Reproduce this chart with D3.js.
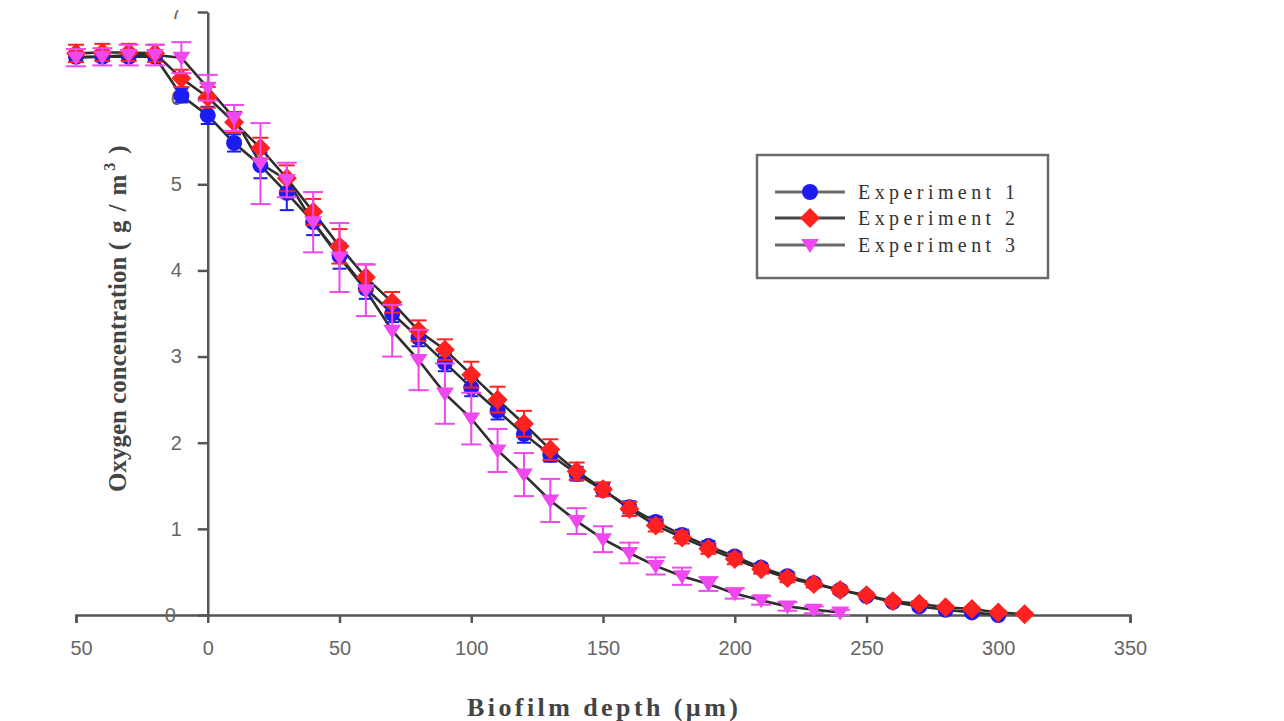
<!DOCTYPE html>
<html><head><meta charset="utf-8">
<script src="https://cdn.jsdelivr.net/npm/d3@7/dist/d3.min.js"></script>
<style>body{margin:0;background:#fff;} svg{display:block;}</style>
</head><body>
<svg id="chart" width="1284" height="721"></svg>
<script>
// ---- data ----
const depth1 = [-50,-40,-30,-20,-10,0,10,20,30,40,50,60,70,80,90,100,110,120,130,140,150,160,170,180,190,200,210,220,230,240,250,260,270,280,290,300];
const exp1 = [6.48,6.48,6.48,6.48,6.03,5.80,5.48,5.22,4.90,4.56,4.17,3.79,3.50,3.22,2.93,2.64,2.37,2.10,1.86,1.64,1.45,1.25,1.08,0.93,0.80,0.68,0.55,0.45,0.37,0.29,0.22,0.15,0.10,0.06,0.03,0.00];
const err1 = [0.05,0.05,0.05,0.05,0.08,0.10,0.10,0.15,0.20,0.15,0.15,0.12,0.10,0.10,0.10,0.10,0.10,0.10,0.08,0.08,0.07,0.07,0.06,0.06,0.06,0.05,0.05,0.05,0.04,0.04,0.03,0.03,0.03,0.02,0.02,0.02];

const depth2 = [-50,-40,-30,-20,-10,0,10,20,30,40,50,60,70,80,90,100,110,120,130,140,150,160,170,180,190,200,210,220,230,240,250,260,270,280,290,300,310];
const exp2 = [6.52,6.53,6.53,6.52,6.23,6.01,5.72,5.42,5.07,4.68,4.28,3.92,3.63,3.30,3.08,2.79,2.50,2.22,1.92,1.67,1.46,1.23,1.04,0.90,0.77,0.65,0.53,0.43,0.36,0.29,0.23,0.16,0.13,0.09,0.07,0.03,0.01];
const err2 = [0.10,0.10,0.10,0.10,0.10,0.12,0.12,0.12,0.15,0.15,0.20,0.15,0.12,0.12,0.12,0.15,0.15,0.15,0.12,0.10,0.08,0.08,0.07,0.07,0.06,0.06,0.05,0.05,0.04,0.04,0.03,0.03,0.03,0.02,0.02,0.02,0.02];

const depth3 = [-50,-40,-30,-20,-10,0,10,20,30,40,50,60,70,80,90,100,110,120,130,140,150,160,170,180,190,200,210,220,230,240];
const exp3 = [6.47,6.48,6.50,6.50,6.47,6.12,5.77,5.24,5.05,4.56,4.15,3.77,3.30,2.96,2.57,2.28,1.91,1.63,1.33,1.09,0.88,0.72,0.57,0.45,0.36,0.25,0.17,0.10,0.06,0.03];
const err3 = [0.10,0.10,0.12,0.12,0.18,0.15,0.15,0.47,0.20,0.35,0.40,0.30,0.30,0.35,0.35,0.30,0.25,0.25,0.25,0.15,0.15,0.12,0.10,0.10,0.08,0.06,0.05,0.05,0.04,0.03];

const seriesNames = ["Experiment 1","Experiment 2","Experiment 3"];
const xTicks = [-50,0,50,100,150,200,250,300,350];
const xTickLabels = ["50","0","50","100","150","200","250","300","350"];
const yTicks = [0,1,2,3,4,5,6,7];
const xTitle = "Biofilm depth (\u00b5m)";
const yTitle = "Oxygen concentration ";

// ---- drawing ----
const svg = d3.select("#chart");
const x = d3.scaleLinear().domain([-50,350]).range([76,1130]);
const y = d3.scaleLinear().domain([0,7]).range([615,12]);

svg.append("defs").append("clipPath").attr("id","clipTop")
  .append("rect").attr("x",0).attr("y",10).attr("width",1284).attr("height",711);
const g = svg.append("g").attr("clip-path","url(#clipTop)");

const axisColor = "#555";
const tickFont = "'Liberation Sans', Arial, sans-serif";
const serif = "'Liberation Serif', 'Times New Roman', serif";

// x axis
const xAxis = d3.axisBottom(x).tickValues(xTicks).tickSizeInner(8).tickSizeOuter(8).tickPadding(18)
  .tickFormat((d,i)=>xTickLabels[i]);
const gx = g.append("g").attr("transform",`translate(0,${y(0)})`).call(xAxis);
gx.select(".domain").attr("stroke",axisColor).attr("stroke-width",2.5);
gx.selectAll(".tick line").attr("stroke",axisColor).attr("stroke-width",2.5);
gx.selectAll(".tick text").attr("fill","#666").style("font-family",tickFont).style("font-size","20px");
gx.selectAll(".tick text").filter(d=>d===-50).attr("dx",5);

// y axis
const yAxis = d3.axisLeft(y).tickValues(yTicks).tickSizeInner(10).tickSizeOuter(0).tickPadding(16).tickFormat(d3.format("d"));
const gy = g.append("g").attr("transform",`translate(${x(0)},0)`).call(yAxis);
gy.select(".domain").attr("stroke",axisColor).attr("stroke-width",2.5);
gy.selectAll(".tick line").attr("stroke",axisColor).attr("stroke-width",2.5);
gy.selectAll(".tick text").attr("fill","#666").style("font-family",tickFont).style("font-size","20px");
gy.selectAll(".tick text").filter(d=>d===0).attr("dx",-6);

// axis titles
g.append("text").attr("x",467).attr("y",716)
  .attr("textLength",271).attr("lengthAdjust","spacing")
  .style("font-family",serif).style("font-size","26px").style("font-weight","bold")
  .attr("fill","#444").text(xTitle);

const yt = g.append("text").attr("transform","translate(126,492) rotate(-90)")
  .style("font-family",serif).style("font-size","25px").style("font-weight","bold").attr("fill","#444");
yt.append("tspan").text(yTitle);
yt.append("tspan").attr("letter-spacing","9px").text("(g/m");
yt.append("tspan").attr("dy",-11).attr("dx",-5).style("font-size","16px").text("3");
yt.append("tspan").attr("dy",11).attr("dx",9).text(")");

// series
const colors = ["#1c1cf0","#ff2020","#ee48ee"];
const series = [
  {d:depth1, v:exp1, e:err1, c:colors[0], shape:"circle", cap:7},
  {d:depth2, v:exp2, e:err2, c:colors[1], shape:"diamond", cap:8},
  {d:depth3, v:exp3, e:err3, c:colors[2], shape:"tri", cap:10},
];

const line = d3.line().x(p=>x(p[0])).y(p=>y(p[1]));
series.forEach(s=>{
  const pts = s.d.map((d,i)=>[d,s.v[i]]);
  g.append("path").datum(pts).attr("d",line).attr("fill","none")
    .attr("stroke","#2e2e2e").attr("stroke-width",2.6);
});

function shapePath(shape){
  if(shape==="circle") return d3.symbol(d3.symbolCircle, Math.PI*8*8)();
  if(shape==="diamond") return "M0,-10L10,0L0,10L-10,0Z";
  return "M-9,-6L9,-6L0,8Z";
}

series.forEach(s=>{
  const gs = g.append("g");
  const pts = s.d.map((d,i)=>({x:d, v:s.v[i], e:s.e[i]}));
  const eb = gs.selectAll(".eb").data(pts).enter().append("g");
  eb.append("line").attr("x1",p=>x(p.x)).attr("x2",p=>x(p.x))
    .attr("y1",p=>y(p.v+p.e)).attr("y2",p=>y(Math.max(0,p.v-p.e)))
    .attr("stroke",s.c).attr("stroke-width",2);
  eb.append("line").attr("x1",p=>x(p.x)-s.cap).attr("x2",p=>x(p.x)+s.cap)
    .attr("y1",p=>y(p.v+p.e)).attr("y2",p=>y(p.v+p.e))
    .attr("stroke",s.c).attr("stroke-width",2);
  eb.append("line").attr("x1",p=>x(p.x)-s.cap).attr("x2",p=>x(p.x)+s.cap)
    .attr("y1",p=>y(Math.max(0,p.v-p.e))).attr("y2",p=>y(Math.max(0,p.v-p.e)))
    .attr("stroke",s.c).attr("stroke-width",2);
  gs.selectAll(".m").data(pts).enter().append("path")
    .attr("transform",p=>`translate(${x(p.x)},${y(p.v)})`)
    .attr("d",shapePath(s.shape)).attr("fill",s.c);
});

// legend
const lg = g.append("g");
lg.append("rect").attr("x",757).attr("y",155).attr("width",291).attr("height",123)
  .attr("fill","#fff").attr("stroke","#6a6a6a").attr("stroke-width",2.5);
const rowY = [192,218,245];
const legendLine = ["#6a6a6a","#444","#6a6a6a"];
series.forEach((s,i)=>{
  lg.append("line").attr("x1",775).attr("x2",845).attr("y1",rowY[i]).attr("y2",rowY[i])
    .attr("stroke",legendLine[i]).attr("stroke-width",3);
  lg.append("path").attr("transform",`translate(810,${rowY[i]})`).attr("d",shapePath(s.shape)).attr("fill",s.c);
  lg.append("text").attr("x",858).attr("y",rowY[i]+7)
    .attr("textLength",157).attr("lengthAdjust","spacing")
    .style("font-family",serif).style("font-size","20px")
    .attr("fill","#333").text(seriesNames[i]);
});
</script>
</body></html>
